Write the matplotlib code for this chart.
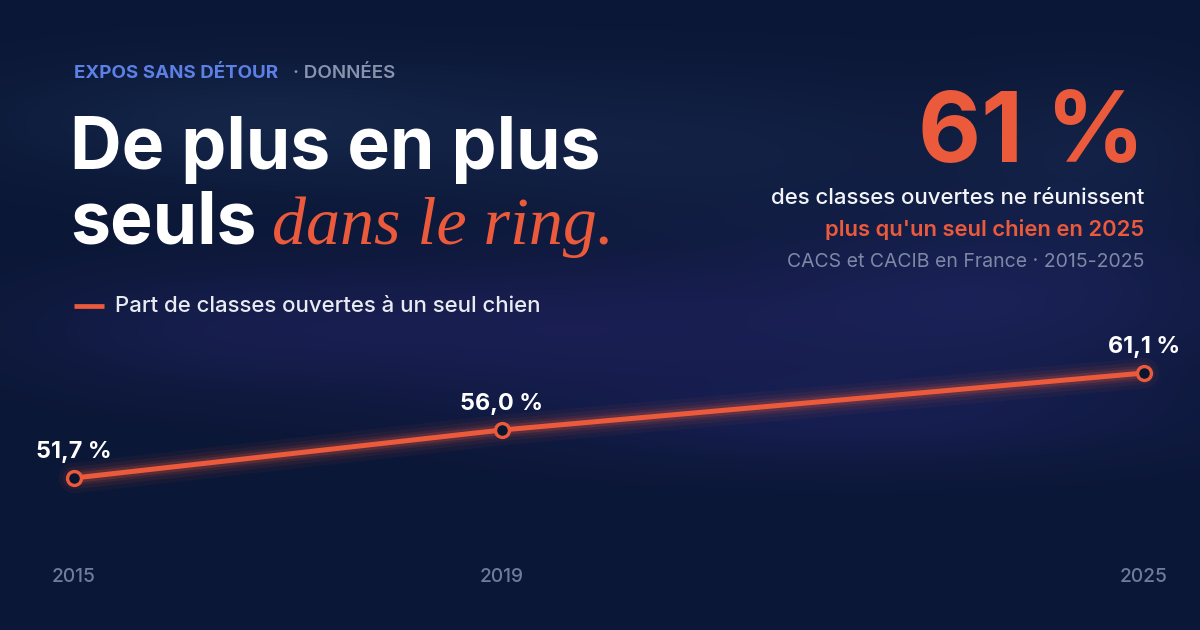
import numpy as np
import matplotlib
matplotlib.use("Agg")
import matplotlib.pyplot as plt

# ---- data ----
years = [2015, 2019, 2025]
share = [51.7, 56.0, 61.1]
value_labels = ["51,7 %", "56,0 %", "61,1 %"]
year_labels = ["2015", "2019", "2025"]

kicker_brand = "EXPOS SANS DÉTOUR"
kicker_section = "· DONNÉES"
title_line1 = "De plus en plus"
title_line2a = "seuls"
title_line2b = "dans le ring."
legend_label = "Part de classes ouvertes à un seul chien"
big_stat = "61 %"
stat_line1 = "des classes ouvertes ne réunissent"
stat_line2 = "plus qu'un seul chien en 2025"
stat_source = "CACS et CACIB en France · 2015-2025"

# ---- style ----
W, H = 1200, 630
ORANGE = "#ec5a3c"
BG = "#0b1736"
WHITE = "#ffffff"
GREY = "#7d89a6"
BLUE = "#5d80e6"
SANS = ["Inter", "DejaVu Sans"]
SERIF = ["Liberation Serif", "DejaVu Serif"]

plt.rcParams["font.family"] = SANS

fig = plt.figure(figsize=(W / 100, H / 100), dpi=100)
fig.patch.set_facecolor(BG)

def fx(x):
    return x / W

def fy(y):
    return 1 - y / H

# ---- background (soft blurred glow) ----
bg_ax = fig.add_axes([0, 0, 1, 1], zorder=0)
gx, gy = np.meshgrid(np.linspace(0, W, 240), np.linspace(0, H, 126))
base = np.array([11, 23, 54], dtype=float) / 255
img = np.ones((126, 240, 3)) * base
blobs = [  # x, y, sx, sy, color, strength
    (250, 120, 260, 60, (28, 50, 88), 0.5),
    (700, 150, 300, 80, (28, 46, 88), 0.4),
    (1000, 300, 260, 90, (38, 42, 112), 0.5),
    (550, 330, 300, 70, (42, 38, 112), 0.45),
    (200, 330, 200, 60, (33, 38, 100), 0.35),
    (850, 420, 320, 50, (33, 38, 108), 0.4),
    (1100, 150, 140, 80, (28, 46, 88), 0.35),
]
for bx, by, sx, sy, col, s in blobs:
    g = np.exp(-(((gx - bx) / sx) ** 2 + ((gy - by) / sy) ** 2))
    c = np.array(col) / 255
    img += (c - base)[None, None, :] * (g * s)[:, :, None]
img = np.clip(img, 0, 1)
bg_ax.imshow(img, extent=[0, W, H, 0], aspect="auto", interpolation="bicubic")
bg_ax.set_xlim(0, W)
bg_ax.set_ylim(H, 0)
bg_ax.axis("off")

# ---- data axes ----
ax_top, ax_bot = 300, 562
ax = fig.add_axes([fx(74), fy(ax_bot), fx(1144 - 74), (ax_bot - ax_top) / H], zorder=2)
ax.set_facecolor("none")
ax.set_xlim(2015, 2025)
ax.set_ylim(44.18, 67.64)
for s in ax.spines.values():
    s.set_visible(False)
ax.set_yticks([])
ax.set_xticks(years)
ax.set_xticklabels(year_labels)
ax.tick_params(axis="x", length=0, pad=4, labelsize=13.8, labelcolor="#6f7c9e")
for t in ax.get_xticklabels():
    t.set_fontweight("medium")

# glow
for lw, a in [(22, 0.05), (16, 0.07), (11, 0.10), (7.5, 0.18)]:
    ax.plot(years, share, color=ORANGE, lw=lw, alpha=a, solid_capstyle="round", clip_on=False)
ax.plot(years, share, color=ORANGE, lw=3.6, solid_capstyle="round", clip_on=False, zorder=3)
ax.plot(years, share, ls="none", marker="o", ms=10, mfc="#0a1630", mec=ORANGE, mew=2.4,
        clip_on=False, zorder=4)
for x, y, lab in zip(years, share, value_labels):
    ax.annotate(lab, (x, y), xytext=(0, 19), textcoords="offset points", ha="center",
                va="center", color=WHITE, fontsize=16.8, fontweight="bold", zorder=5)

# ---- header texts ----
fig.text(fx(74), fy(73), kicker_brand, color=BLUE, fontsize=13.5, fontweight="bold",
         va="center", ha="left", zorder=3)
fig.text(fx(293), fy(73), kicker_section, color="#8a93ad", fontsize=13.5, fontweight="semibold",
         va="center", ha="left", zorder=3)

fig.text(fx(70), fy(169), title_line1, color=WHITE, fontsize=51.5, fontweight="bold",
         va="baseline", ha="left", zorder=3)
t_seuls = fig.text(fx(70), fy(244), title_line2a, color=WHITE, fontsize=51.5, fontweight="bold",
                   va="baseline", ha="left", zorder=3)
fig.canvas.draw()
bb = t_seuls.get_window_extent()
x_after = bb.x1 / W + 15 / W
fig.text(x_after, fy(244), title_line2b, color=ORANGE, fontsize=49, fontstyle="italic",
         family=SERIF, va="baseline", ha="left", zorder=3)

# legend
fig.add_artist(plt.Line2D([fx(74), fx(104)], [fy(306), fy(306)], color=ORANGE, lw=3.4,
                          solid_capstyle="butt", zorder=3))
fig.text(fx(115), fy(306), legend_label, color="#e8ebf2", fontsize=16, va="center",
         ha="left", fontweight="medium", zorder=3)

# ---- right stat block ----
fig.text(fx(1145), fy(162), big_stat, color=ORANGE, fontsize=70, fontweight="bold",
         va="baseline", ha="right", zorder=3)
fig.text(fx(1144), fy(198), stat_line1, color="#f2f4f8", fontsize=16, fontweight="medium",
         va="center", ha="right", zorder=3)
fig.text(fx(1144), fy(230), stat_line2, color=ORANGE, fontsize=15.8, fontweight="semibold",
         va="center", ha="right", zorder=3)
fig.text(fx(1144), fy(262), stat_source, color=GREY, fontsize=14, va="center",
         ha="right", zorder=3)

fig.savefig("out.png", dpi=100, facecolor=BG)
